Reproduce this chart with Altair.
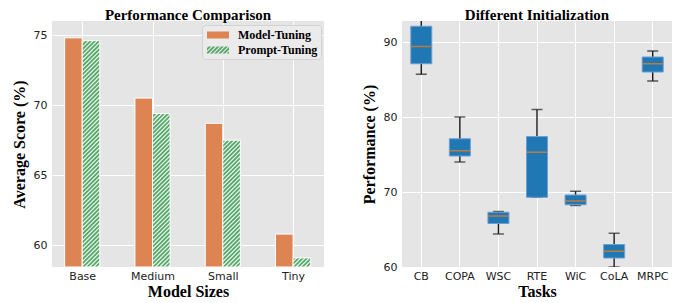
import json
import altair as alt
import pandas as pd

# ---------------- data ----------------
sizes = ["Base", "Medium", "Small", "Tiny"]
series = ["Model-Tuning", "Prompt-Tuning"]
model_tuning = [74.8, 70.5, 68.7, 60.8]
prompt_tuning = [74.6, 69.4, 67.5, 59.1]

tasks = ["CB", "COPA", "WSC", "RTE", "WiC", "CoLA", "MRPC"]
whisker_low = [85.7, 74.0, 64.4, 69.3, 68.2, 60.0, 84.8]
quart1 = [87.1, 74.8, 65.8, 69.3, 68.3, 61.2, 86.0]
medians = [89.4, 75.5, 66.8, 75.3, 68.8, 62.1, 87.1]
quart3 = [92.1, 77.1, 67.3, 77.4, 69.6, 63.0, 88.0]
whisker_high = [94.0, 80.0, 67.4, 81.0, 70.1, 64.5, 88.8]

# ---------------- style ----------------
ORANGE = "#DD8452"
GREEN = "#55A868"
BG = "#E5E5E5"
W1, W2, H = 272, 270, 246
X_DOM = [-0.43, 3.44]
Y1_DOM = [58.45, 76.0]
Y2_DOM = [60, 92.8]
BAR_W = 0.25
SERIF = "Liberation Serif"

rows = []
for i, s in enumerate(sizes):
    rows.append(dict(size=s, series=series[0], value=model_tuning[i],
                     x0=i - BAR_W, x1=i, base=Y1_DOM[0]))
    rows.append(dict(size=s, series=series[1], value=prompt_tuning[i],
                     x0=i, x1=i + BAR_W, base=Y1_DOM[0]))
bars_df = pd.DataFrame(rows)

# hatch lines (///) for the prompt-tuning bars, derived from the bar values
px_x = W1 / (X_DOM[1] - X_DOM[0])
px_y = H / (Y1_DOM[1] - Y1_DOM[0])
PITCH = 4.2
hatch = []
for i, v in enumerate(prompt_tuning):
    w = BAR_W * px_x
    h = (v - Y1_DOM[0]) * px_y
    c = -w + 2.0
    while c < h:
        xs = max(0.0, -c)
        xe = min(w, h - c)
        if xe - xs > 0.3:
            hatch.append(dict(hx=i + xs / px_x, hx2=i + xe / px_x,
                              hy=Y1_DOM[0] + (xs + c) / px_y,
                              hy2=Y1_DOM[0] + (xe + c) / px_y))
        c += PITCH
hatch_df = pd.DataFrame(hatch)


# legend swatch shapes (custom symbol paths, scale = sqrt(size)/2 = 7 px/unit)
def clip_poly(pts, xmin, xmax):
    def clip(pts, inside, inter):
        out = []
        for j in range(len(pts)):
            cur, prev = pts[j], pts[j - 1]
            if inside(cur):
                if not inside(prev):
                    out.append(inter(prev, cur))
                out.append(cur)
            elif inside(prev):
                out.append(inter(prev, cur))
        return out

    def ix(xv):
        return lambda p, q: (xv, p[1] + (q[1] - p[1]) * (xv - p[0]) / (q[0] - p[0]))

    pts = clip(pts, lambda p: p[0] >= xmin, ix(xmin))
    if pts:
        pts = clip(pts, lambda p: p[0] <= xmax, ix(xmax))
    return pts


XL, XR, HY = -0.714, 2.429, 0.5
rect_path = f"M{XL},{-HY}H{XR}V{HY}H{XL}Z"
hatch_path = rect_path
a = XL - 2 * HY
while a < XR:
    sw = 0.22
    poly = [(a + 2 * HY, -HY), (a, HY), (a + sw, HY), (a + 2 * HY + sw, -HY)]
    poly = clip_poly(poly, XL, XR)
    if len(poly) >= 3:
        hatch_path += "M" + "L".join(f"{p[0]:.3f},{p[1]:.3f}" for p in poly) + "Z"
    a += 0.6

# ---------------- left chart ----------------
xs1 = alt.Scale(domain=X_DOM, nice=False, zero=False)
ys1 = alt.Scale(domain=Y1_DOM, nice=False, zero=False)
x_axis1 = alt.Axis(values=list(range(len(sizes))), title="Model Sizes",
                   labelExpr=f"{json.dumps(sizes)}[datum.value]")
y_axis1 = alt.Axis(values=[60, 65, 70, 75], title="Average Score (%)")

legend = alt.Legend(title=None, orient="none", legendX=150, legendY=4, padding=3,
                    fillColor="#EBEBEB", strokeColor="#D2D2D2", cornerRadius=3,
                    labelFont=SERIF, labelFontWeight="bold", labelFontSize=12,
                    labelColor="black", symbolSize=196, symbolStrokeWidth=0,
                    symbolOpacity=1, labelOffset=19, rowPadding=2)


def bar_layer(name, colour):
    return alt.Chart(bars_df).transform_filter(
        alt.datum.series == name
    ).mark_rect(fill=colour, stroke="white", strokeWidth=1).encode(
        x=alt.X("x0:Q", scale=xs1, axis=x_axis1),
        x2="x1:Q",
        y=alt.Y("value:Q", scale=ys1, axis=y_axis1),
        y2="base:Q",
    )


bars_m = bar_layer(series[0], ORANGE)
bars_p = bar_layer(series[1], GREEN)

hatches = alt.Chart(hatch_df).mark_rule(color="white", strokeWidth=1.2, opacity=0.9).encode(
    x=alt.X("hx:Q", scale=xs1, axis=x_axis1),
    x2="hx2:Q",
    y=alt.Y("hy:Q", scale=ys1, axis=y_axis1),
    y2="hy2:Q",
)

legend_carrier = alt.Chart(bars_df).transform_calculate(
    hidden="datum.value - 100"
).mark_point(filled=True, clip=True, size=40).encode(
    x=alt.X("x0:Q", scale=xs1, axis=x_axis1),
    y=alt.Y("hidden:Q", scale=ys1, axis=y_axis1),
    color=alt.Color("series:N", scale=alt.Scale(domain=series, range=[ORANGE, GREEN]),
                    legend=legend),
    shape=alt.Shape("series:N", scale=alt.Scale(domain=series, range=[rect_path, hatch_path]),
                    legend=legend),
)

left = alt.layer(bars_m, bars_p, hatches, legend_carrier).properties(
    width=W1, height=H,
    title=alt.TitleParams("Performance Comparison", font=SERIF, fontSize=15,
                          fontWeight="bold", color="black", anchor="middle", offset=-2),
)

# ---------------- right chart ----------------
box_df = pd.DataFrame(dict(task=tasks, lo=whisker_low, q1=quart1, med=medians,
                           q3=quart3, hi=whisker_high))
xb = alt.X("task:N", sort=tasks, scale=alt.Scale(paddingInner=0, paddingOuter=0),
           axis=alt.Axis(title="Tasks", labelAngle=0, bandPosition=0.5))
ys2 = alt.Scale(domain=Y2_DOM, nice=False, zero=False)
y_axis2 = alt.Axis(values=[60, 70, 80, 90], title="Performance (%)")

base = alt.Chart(box_df)
whisk = base.mark_rule(color="#1a1a1a", strokeWidth=1.4, clip=True).encode(
    x=xb, y=alt.Y("lo:Q", scale=ys2, axis=y_axis2), y2="hi:Q")
cap_lo = base.mark_tick(size=11, thickness=1.4, color="#1a1a1a", clip=True).encode(
    x=xb, y=alt.Y("lo:Q", scale=ys2, axis=y_axis2))
cap_hi = base.mark_tick(size=11, thickness=1.4, color="#1a1a1a", clip=True).encode(
    x=xb, y=alt.Y("hi:Q", scale=ys2, axis=y_axis2))
box = base.mark_bar(size=21, color="#1F77B4", stroke="#6D9ED3", strokeWidth=1).encode(
    x=xb, y=alt.Y("q1:Q", scale=ys2, axis=y_axis2), y2="q3:Q")
med = base.mark_tick(size=20, thickness=1.5, color="#FF7F0E").encode(
    x=xb, y=alt.Y("med:Q", scale=ys2, axis=y_axis2))

right = alt.layer(whisk, cap_lo, cap_hi, box, med).properties(
    width=W2, height=H,
    title=alt.TitleParams("Different Initialization", font=SERIF, fontSize=15,
                          fontWeight="bold", color="black", anchor="middle", offset=-2),
)

chart = alt.hconcat(left, right, spacing=37).properties(
    padding={"left": 3, "top": 0, "right": 0, "bottom": 0}
).configure_view(
    fill=BG, stroke=None
).configure_axis(
    domain=False, ticks=False, grid=True, gridColor="white", gridWidth=1, gridOpacity=1,
    labelFont="DejaVu Sans", labelFontSize=11, labelColor="#222222",
    titleFont=SERIF, titleFontSize=16, titleFontWeight="bold", titleColor="black",
).configure_axisX(
    labelPadding=3, titlePadding=2
).configure_axisY(
    labelPadding=5, titlePadding=6
)

chart.save("out.html", embed_options={"renderer": "svg", "actions": False})
